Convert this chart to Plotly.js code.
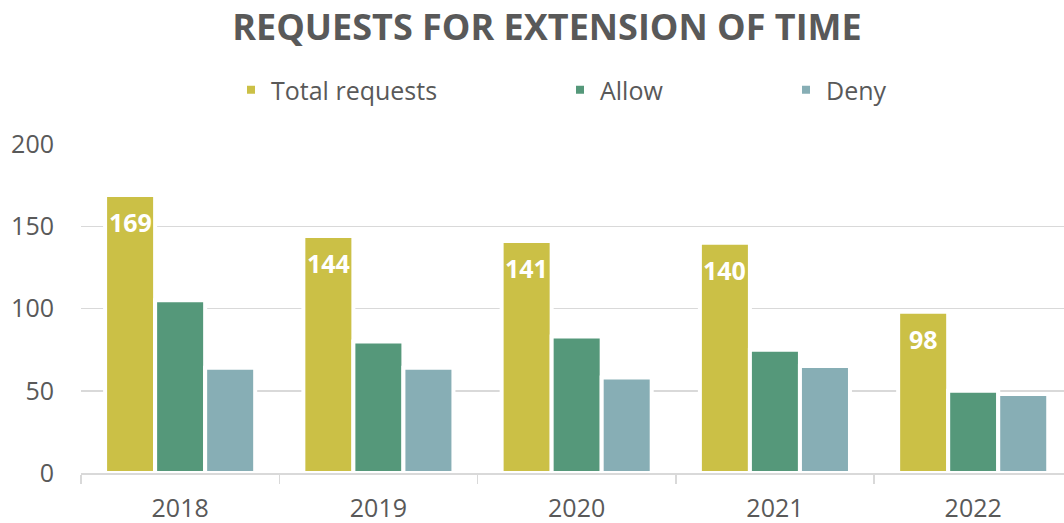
<!DOCTYPE html>
<html>
<head>
<meta charset="utf-8">
<script src="https://cdn.plot.ly/plotly-3.0.1.min.js"></script>
<style>html,body{margin:0;padding:0;background:#fff}#chart{width:1064px;height:523px}</style>
</head>
<body>
<div id="chart"></div>
<script>
const years = ['2018', '2019', '2020', '2021', '2022'];
const totalRequests = [169, 144, 141, 140, 98];
const allow = [105, 80, 83, 75, 50];
const deny = [64, 64, 58, 65, 48];
const seriesNames = ['Total requests', 'Allow', 'Deny'];
const yTicks = [0, 50, 100, 150, 200];

const FONT = '"Open Sans", "Noto Sans", sans-serif';
const GREY = '#595959';
const colors = ['#CBC046', '#55987A', '#87AEB5'];
const seriesValues = [totalRequests, allow, deny];
const legendIds = ['legend', 'legend2', 'legend3'];

const traces = seriesValues.map((vals, i) => ({
  type: 'bar',
  name: seriesNames[i],
  x: years,
  y: vals,
  legend: legendIds[i],
  marker: {color: colors[i], line: {color: '#ffffff', width: 4}},
  hoverinfo: 'x+y+name'
}));

// data labels on the Total bars; x is the category index of years[i]
const annotations = years.map((yr, i) => ({
  x: i, y: totalRequests[i], xref: 'x', yref: 'y',
  xshift: -50, yanchor: 'top', yshift: -8,
  text: String(totalRequests[i]), showarrow: false,
  font: {family: FONT, size: 25, color: '#ffffff', weight: 'bold'}
}));

const legendBase = {
  orientation: 'h', xref: 'container', yref: 'container',
  xanchor: 'left', yanchor: 'middle', y: 1 - 90 / 523,
  font: {family: FONT, size: 25, color: GREY},
  bgcolor: 'rgba(0,0,0,0)', borderwidth: 0
};

const layout = {
  width: 1064, height: 523,
  margin: {l: 81, r: 0, t: 144, b: 50},
  paper_bgcolor: '#ffffff', plot_bgcolor: '#ffffff',
  font: {family: FONT, color: GREY},
  title: {
    text: 'REQUESTS FOR EXTENSION OF TIME',
    font: {family: FONT, size: 36, color: GREY, weight: 'bold'},
    xref: 'container', yref: 'container',
    x: 547 / 1064, xanchor: 'center', y: 1 - 27 / 523, yanchor: 'middle'
  },
  barmode: 'group', bargap: 0.243, bargroupgap: 0,
  xaxis: {
    type: 'category', range: [-0.5, 4.458],
    showline: true, linecolor: '#D9D9D9', linewidth: 1.5,
    ticks: 'outside', tickson: 'boundaries', ticklen: 9, tickcolor: '#D9D9D9', tickwidth: 1.5,
    ticklabelstandoff: 12,
    tickfont: {family: FONT, size: 25, color: GREY},
    showgrid: false, fixedrange: true
  },
  yaxis: {
    range: [0, 200], tickvals: yTicks, ticktext: yTicks.map(String),
    showgrid: true, gridcolor: '#D9D9D9', gridwidth: 1.5,
    zeroline: false, showline: false, ticks: '',
    ticklabelstandoff: 26,
    tickfont: {family: FONT, size: 25, color: GREY}, fixedrange: true
  },
  showlegend: true,
  legend: Object.assign({}, legendBase, {x: 231 / 1064}),
  legend2: Object.assign({}, legendBase, {x: 560 / 1064}),
  legend3: Object.assign({}, legendBase, {x: 786 / 1064}),
  annotations: annotations
};

Plotly.newPlot('chart', traces, layout, {displayModeBar: false, staticPlot: true});
</script>
</body>
</html>
